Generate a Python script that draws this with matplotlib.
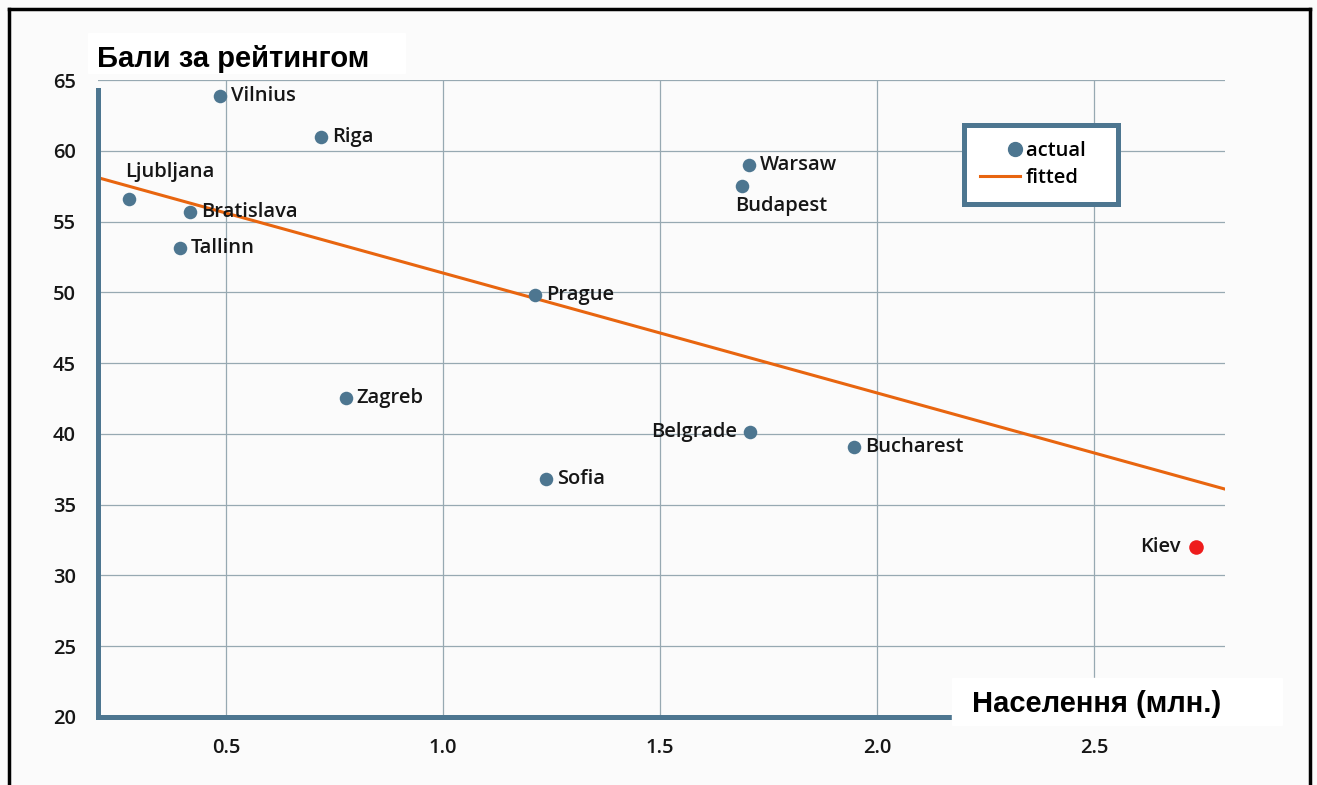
import matplotlib
matplotlib.use("Agg")
import matplotlib.pyplot as plt
from matplotlib.lines import Line2D
from matplotlib.patches import Rectangle
from matplotlib.legend_handler import HandlerLine2D

# data
cities = ["Vilnius", "Riga", "Ljubljana", "Bratislava", "Tallinn", "Prague", "Zagreb",
          "Sofia", "Belgrade", "Bucharest", "Warsaw", "Budapest", "Kiev"]
population = [0.486, 0.719, 0.277, 0.417, 0.394, 1.212, 0.776,
              1.237, 1.707, 1.947, 1.705, 1.689, 2.735]
score = [63.9, 61.0, 56.6, 55.7, 53.1, 49.8, 42.5,
         36.8, 40.1, 39.1, 59.0, 57.5, 32.0]
highlight = "Kiev"
fit_x = [0.205, 2.802]
fit_y = [58.1, 36.1]
x_ticks = [0.5, 1.0, 1.5, 2.0, 2.5]
y_ticks = [20, 25, 30, 35, 40, 45, 50, 55, 60, 65]

# label placement (pixels from the dot)
label_pos = {"Ljubljana": (-4, 27, "left"), "Belgrade": (-13, 0, "right"),
             "Budapest": (-7, -20, "left"), "Kiev": (-15, 0, "right")}

blue = "#4d7690"
orange = "#e8650f"
red = "#ee1c1c"
bg = "#fbfbfb"
txt = "#161616"
fs = 14.5
W, H = 1317, 785


class RightMarker(HandlerLine2D):
    # only draw the marker at the right end of the handle, next to the text
    def create_artists(self, *args, **kwargs):
        arts = super().create_artists(*args, **kwargs)
        for a in arts:
            a.set_markevery([1])
        return arts


plt.rcParams['font.family'] = ['Open Sans', 'DejaVu Sans']
plt.rcParams['font.weight'] = 'semibold'

fig = plt.figure(figsize=(W / 100, H / 100), dpi=100, facecolor=bg)
ax = fig.add_axes([98 / W, (H - 717) / H, 1127 / W, 637 / H], facecolor=bg)

ax.plot(fit_x, fit_y, color=orange, lw=2.2, zorder=2, label="fitted")
bx = [p for p, c in zip(population, cities) if c != highlight]
by = [s for s, c in zip(score, cities) if c != highlight]
ax.scatter(bx, by, s=95, color=blue, zorder=3, label="actual", linewidths=0)
for p, s, c in zip(population, score, cities):
    if c == highlight:
        ax.scatter([p], [s], s=110, color=red, zorder=3, linewidths=0)
    dx, dy, ha = label_pos.get(c, (11, 0, "left"))
    ax.annotate(c, (p, s), xytext=(dx, dy), textcoords="offset pixels",
                ha=ha, va="center", fontsize=fs, color=txt, zorder=4)

ax.set_xlim(0.205, 2.802)
ax.set_ylim(20, 65)
ax.set_xticks(x_ticks)
ax.set_xticklabels([f"{t:.1f}" for t in x_ticks])
ax.set_yticks(y_ticks)
ax.tick_params(length=0, labelsize=fs, labelcolor=txt)
ax.tick_params(axis="x", pad=15)
ax.tick_params(axis="y", pad=16)
ax.grid(True, color="#97a9b2", lw=0.9)
ax.set_axisbelow(True)
for side in ["top", "right"]:
    ax.spines[side].set_visible(False)
for side in ["left", "bottom"]:
    ax.spines[side].set_color(blue)
    ax.spines[side].set_linewidth(3.6)
ax.spines["left"].set_bounds(20, 64.3)

h_actual = Line2D([], [], marker="o", ls="none", color=blue, markersize=10)
h_fitted = Line2D([], [], color=orange, lw=2.2)
leg = ax.legend([h_actual, h_fitted], ["actual   ", "fitted"], loc="upper left",
                handler_map={h_actual: RightMarker(numpoints=2, marker_pad=0.25)},
                bbox_to_anchor=(0.768, 0.929), borderaxespad=0, fontsize=fs,
                fancybox=False, framealpha=1, facecolor="white", edgecolor=blue,
                borderpad=0.8, labelspacing=0.35, handlelength=2.0, handletextpad=0.3)
leg.get_frame().set_linewidth(3.6)

# white boxes behind the axis titles
fig.add_artist(Rectangle((88 / W, (H - 73) / H), 317 / W, 40 / H,
                         transform=fig.transFigure, color="white", zorder=5))
fig.text(97 / W, (H - 59) / H, "Бали за рейтингом", fontsize=21, fontweight="bold",
         family=["Liberation Sans", "DejaVu Sans"], va="center", ha="left", zorder=6)
fig.add_artist(Rectangle((952 / W, (H - 725) / H), 330 / W, 47 / H,
                         transform=fig.transFigure, color="white", zorder=5))
fig.text(972 / W, (H - 704) / H, "Населення (млн.)", fontsize=21, fontweight="bold",
         family=["Liberation Sans", "DejaVu Sans"], va="center", ha="left", zorder=6)

# black frame (left, top, right)
for xs, ys in [([9, 9], [0, 9]), ([9, 1310], [9, 9]), ([1310, 1310], [9, 0])]:
    fig.add_artist(Line2D([x / W for x in xs], [(H - y) / H if y else 0 for y in ys],
                          transform=fig.transFigure, color="black", lw=2.5, zorder=7))

fig.savefig("out.png", dpi=100, facecolor=bg)
